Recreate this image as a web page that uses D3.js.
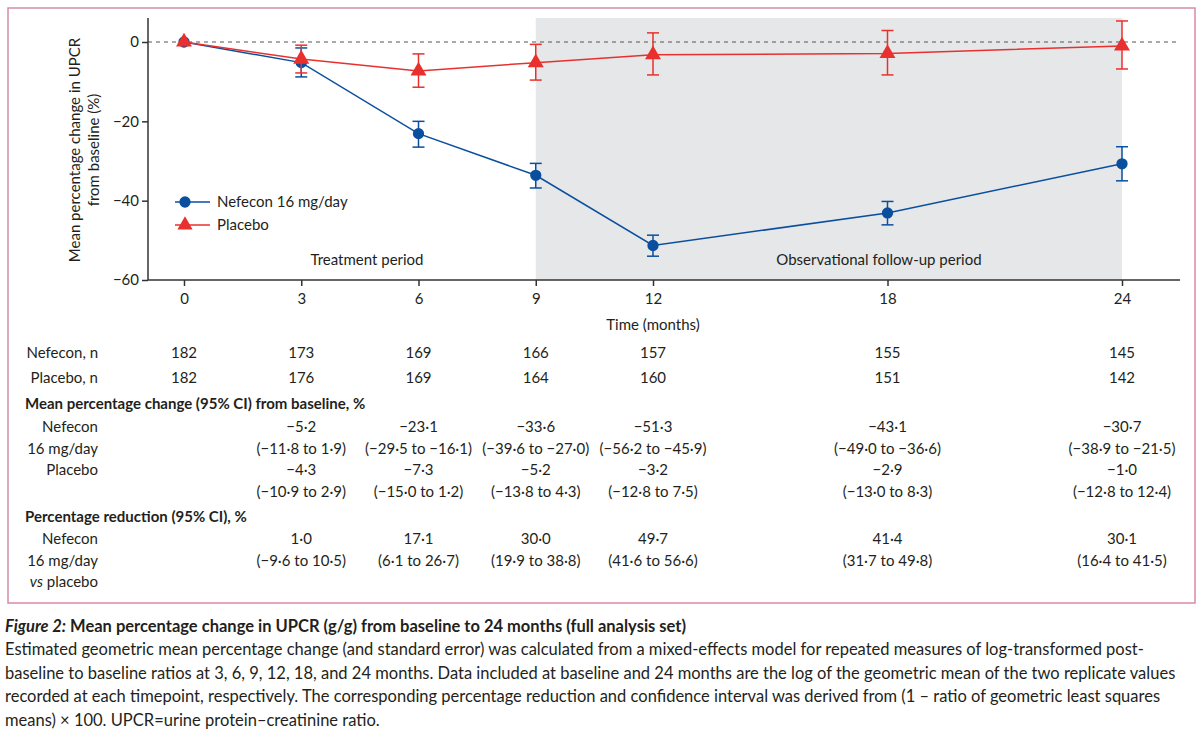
<!DOCTYPE html>
<html><head><meta charset="utf-8">
<script src="https://cdn.jsdelivr.net/npm/d3@7"></script>
<style>body{margin:0;background:#fff;}svg{font-family:Lato,"Open Sans",sans-serif;}</style>
</head><body><svg id="c" width="1200" height="735"></svg>
<script>
const months = [0,3,6,9,12,18,24];
const nefMean = [0,-5.2,-23.1,-33.6,-51.3,-43.1,-30.7];
const nefHi   = [0,-1.5,-20.0,-30.6,-48.7,-40.2,-26.4];
const nefLo   = [0,-8.8,-26.5,-36.8,-54.0,-46.1,-35.0];
const plaMean = [0,-4.3,-7.3,-5.2,-3.2,-2.9,-1.0];
const plaHi   = [0,-0.8,-3.0,-0.6,2.3,2.9,5.3];
const plaLo   = [0,-7.8,-11.4,-9.6,-8.3,-8.3,-6.8];
const yTicks = [0,-20,-40,-60];
const nefN = ["182","173","169","166","157","155","145"];
const plaN = ["182","176","169","164","160","151","142"];
const nefChange = ["","−5·2","−23·1","−33·6","−51·3","−43·1","−30·7"];
const nefChangeCI = ["","(−11·8 to 1·9)","(−29·5 to −16·1)","(−39·6 to −27·0)","(−56·2 to −45·9)","(−49·0 to −36·6)","(−38·9 to −21·5)"];
const plaChange = ["","−4·3","−7·3","−5·2","−3·2","−2·9","−1·0"];
const plaChangeCI = ["","(−10·9 to 2·9)","(−15·0 to 1·2)","(−13·8 to 4·3)","(−12·8 to 7·5)","(−13·0 to 8·3)","(−12·8 to 12·4)"];
const redVal = ["","1·0","17·1","30·0","49·7","41·4","30·1"];
const redCI = ["","(−9·6 to 10·5)","(6·1 to 26·7)","(19·9 to 38·8)","(41·6 to 56·6)","(31·7 to 49·8)","(16·4 to 41·5)"];
const captionLines = [
 "Estimated geometric mean percentage change (and standard error) was calculated from a mixed-effects model for repeated measures of log-transformed post-",
 "baseline to baseline ratios at 3, 6, 9, 12, 18, and 24 months. Data included at baseline and 24 months are the log of the geometric mean of the two replicate values",
 "recorded at each timepoint, respectively. The corresponding percentage reduction and confidence interval was derived from (1 – ratio of geometric least squares",
 "means) × 100. UPCR=urine protein–creatinine ratio."];

const svg = d3.select("#c");
const BLUE="#0a4f9e", RED="#e8312f", TXT="#231f20";
svg.append("rect").attr("x",8).attr("y",8).attr("width",1187).attr("height",595).attr("fill","none").attr("stroke","#d88aa5").attr("stroke-width",1.5);

const x = d3.scaleLinear().domain([0,24]).range([184,1122]);
const y = d3.scaleLinear().domain([-60,0]).range([280,42]);
const plotTop = 18;
svg.append("rect").attr("x",x(9)).attr("y",plotTop).attr("width",x(24)-x(9)).attr("height",280-plotTop).attr("fill","#e6e7e8");
svg.append("line").attr("x1",148).attr("x2",1180).attr("y1",y(0)).attr("y2",y(0)).attr("stroke","#555").attr("stroke-dasharray","4,4");

const xa = svg.append("g").attr("transform","translate(0,280)").call(d3.axisBottom(x).tickValues(months).tickSize(6).tickSizeOuter(0));
xa.select(".domain").attr("d","M148,0H1180");
const ya = svg.append("g").attr("transform","translate(148,0)").call(d3.axisLeft(y).tickValues(yTicks).tickSize(6).tickSizeOuter(0).tickFormat(d=>d<0?"−"+(-d):d));
ya.select(".domain").attr("d","M0,"+plotTop+"V280");
[xa,ya].forEach(a=>{a.selectAll("path,line").attr("stroke","#333").attr("stroke-width",1.5);a.selectAll("text").attr("font-size",15).attr("fill",TXT).attr("font-family","Lato");});
xa.selectAll("text").attr("dy","1em");

svg.append("text").attr("transform","translate(80,150) rotate(-90)").attr("text-anchor","middle").attr("font-size",15).attr("fill",TXT)
 .selectAll("tspan").data(["Mean percentage change in UPCR","from baseline (%)"]).join("tspan").attr("x",0).attr("dy",(d,i)=>i?19:0).text(d=>d);
svg.append("text").attr("x",x(12)).attr("y",330).attr("text-anchor","middle").attr("font-size",15).attr("fill",TXT).text("Time (months)");
svg.append("text").attr("x",367).attr("y",265).attr("text-anchor","middle").attr("font-size",15).attr("fill",TXT).text("Treatment period");
svg.append("text").attr("x",879).attr("y",265).attr("text-anchor","middle").attr("font-size",15).attr("fill",TXT).text("Observational follow-up period");

function series(mean,hi,lo,color,shape){
  const g=svg.append("g");
  const idx=d3.range(months.length);
  idx.filter(i=>i>0).forEach(i=>{
    g.append("line").attr("x1",x(months[i])).attr("x2",x(months[i])).attr("y1",y(hi[i])).attr("y2",y(lo[i])).attr("stroke",color).attr("stroke-width",1.5);
    [hi[i],lo[i]].forEach(v=>g.append("line").attr("x1",x(months[i])-6).attr("x2",x(months[i])+6).attr("y1",y(v)).attr("y2",y(v)).attr("stroke",color).attr("stroke-width",1.5));
  });
  g.append("path").datum(idx).attr("fill","none").attr("stroke",color).attr("stroke-width",1.5)
   .attr("d",d3.line().x(i=>x(months[i])).y(i=>y(mean[i])));
  g.selectAll(".m").data(idx).join("path").attr("fill",color)
   .attr("transform",i=>`translate(${x(months[i])},${y(mean[i])})`)
   .attr("d",d3.symbol(shape,shape===d3.symbolCircle?100:110));
}
series(nefMean,nefHi,nefLo,BLUE,d3.symbolCircle);
series(plaMean,plaHi,plaLo,RED,d3.symbolTriangle);

[[BLUE,d3.symbolCircle,"Nefecon 16 mg/day",202],[RED,d3.symbolTriangle,"Placebo",225]].forEach(([c,s,t,yy])=>{
  svg.append("line").attr("x1",175).attr("x2",210).attr("y1",yy).attr("y2",yy).attr("stroke",c).attr("stroke-width",1.5);
  svg.append("path").attr("transform",`translate(185,${yy})`).attr("d",d3.symbol(s,100)).attr("fill",c);
  svg.append("text").attr("x",217).attr("y",yy+5).attr("font-size",15).attr("fill",TXT).text(t);
});

function row(vals,yy){svg.append("g").selectAll("text").data(vals).join("text").attr("x",(d,i)=>x(months[i])).attr("y",yy).attr("text-anchor","middle").attr("font-size",15).attr("fill",TXT).text(d=>d);}
function lab(t,yy){svg.append("text").attr("x",98).attr("y",yy).attr("text-anchor","end").attr("font-size",15).attr("fill",TXT).text(t);}
function head(t,yy){svg.append("text").attr("x",25).attr("y",yy).attr("font-size",15).attr("font-weight","bold").attr("fill",TXT).text(t);}
lab("Nefecon, n",358);row(nefN,358);
lab("Placebo, n",383);row(plaN,383);
head("Mean percentage change (95% CI) from baseline, %",409);
lab("Nefecon",432);row(nefChange,432);
lab("16 mg/day",454);row(nefChangeCI,454);
lab("Placebo",475);row(plaChange,475);
row(plaChangeCI,497);
head("Percentage reduction (95% CI), %",522);
lab("Nefecon",544);row(redVal,544);
lab("16 mg/day",566);row(redCI,566);
const vs=svg.append("text").attr("x",98).attr("y",587).attr("text-anchor","end").attr("font-size",15).attr("fill",TXT);
vs.append("tspan").attr("font-style","italic").text("vs");vs.append("tspan").text(" placebo");

const cap=svg.append("text").attr("x",5).attr("y",632).attr("font-size",16.5).attr("fill",TXT);
cap.append("tspan").attr("font-style","italic").attr("font-weight","bold").text("Figure 2:");
cap.append("tspan").attr("font-weight","bold").text(" Mean percentage change in UPCR (g/g) from baseline to 24 months (full analysis set)");
svg.append("g").selectAll("text").data(captionLines).join("text").attr("x",5).attr("y",(d,i)=>655+i*23.5).attr("font-size",16.5).attr("fill",TXT).text(d=>d);
</script></body></html>
